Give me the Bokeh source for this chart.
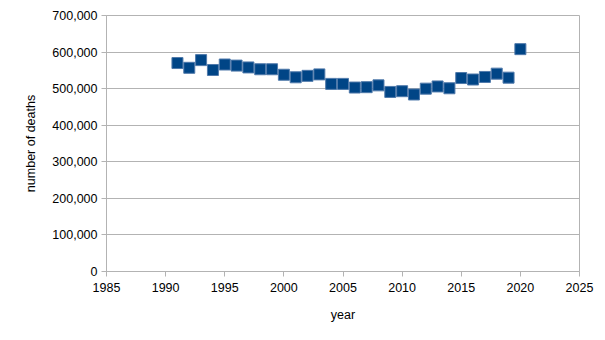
from bokeh.plotting import figure
from bokeh.models import SingleIntervalTicker, NumeralTickFormatter, ColumnDataSource
from bokeh.embed import file_html
from bokeh.resources import INLINE

years = list(range(1991, 2021))
deaths = [570000, 557000, 578000, 551000, 566000, 563000, 558000, 553000, 553000, 538000,
          531000, 535000, 539000, 513000, 513000, 503000, 504000, 509000, 491000, 493000,
          484000, 500000, 506000, 501000, 529000, 525000, 532000, 541000, 530000, 608000]

src = ColumnDataSource(dict(year=years, deaths=deaths))

FONT = "Liberation Sans"
GRID = "#b3b3b3"

p = figure(width=605, height=340, output_backend="svg", toolbar_location=None,
           x_range=(1985, 2025), y_range=(0, 700000),
           min_border_left=106, min_border_right=26, min_border_top=15, min_border_bottom=69)

p.scatter("year", "deaths", source=src, marker="square", size=11,
          fill_color="#004586", line_color="#4f79aa", line_width=1)

p.xaxis.ticker = SingleIntervalTicker(interval=5, num_minor_ticks=0)
p.yaxis.ticker = SingleIntervalTicker(interval=100000, num_minor_ticks=0)
p.yaxis.formatter = NumeralTickFormatter(format="0,0")

for ax in (p.xaxis[0], p.yaxis[0]):
    ax.axis_line_color = GRID
    ax.major_tick_line_color = GRID
    ax.major_tick_out = 5
    ax.major_tick_in = 0
    ax.minor_tick_line_color = None
    ax.major_label_text_font = FONT
    ax.major_label_text_font_size = "12.5px"
    ax.major_label_text_color = "black"
    ax.axis_label_text_font = FONT
    ax.axis_label_text_font_size = "12.5px"
    ax.axis_label_text_font_style = "normal"
    ax.axis_label_text_color = "black"

p.xaxis.axis_label = "year"
p.yaxis.axis_label = "number of deaths"
p.xaxis.major_label_standoff = 6
p.xaxis.axis_label_standoff = 13
p.yaxis.major_label_standoff = 4
p.yaxis.axis_label_standoff = 11

p.xgrid.grid_line_color = None
p.ygrid.grid_line_color = GRID
p.ygrid.grid_line_width = 1
p.outline_line_color = GRID
p.background_fill_color = "white"
p.border_fill_color = "white"

open("out.html", "w").write(file_html(p, INLINE))
